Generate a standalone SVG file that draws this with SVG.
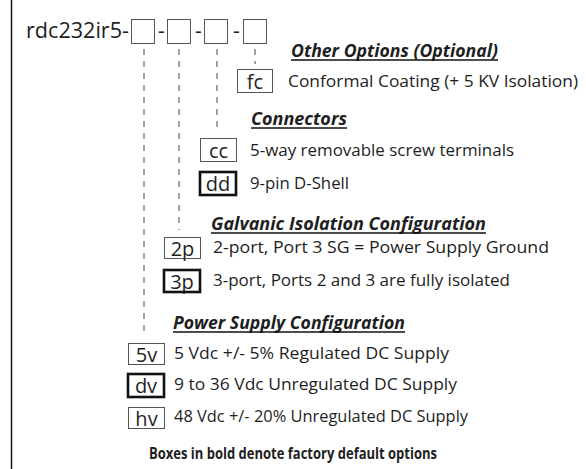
<svg xmlns="http://www.w3.org/2000/svg" width="586" height="469" viewBox="0 0 586 469">
<style>
text{font-family:"Open Sans",Lato,"Liberation Sans",sans-serif;fill:#1e1e1e}
.t{font-size:17px}
.h{font-size:17px;font-weight:bold;font-style:italic}
.lab{font-size:20px;text-anchor:middle}
.b{fill:#fff;stroke:#555;stroke-width:1}
.bb{fill:#fff;stroke:#111;stroke-width:2.6}
.ul{stroke:#111;stroke-width:1.6}
.d{stroke:#444;stroke-width:1;stroke-dasharray:6,6;fill:none}
</style>
<rect width="586" height="469" fill="#fff"/>
<line x1="11.5" y1="0" x2="11.5" y2="469" stroke="#111" stroke-width="1.5"/>
<g id="part">
<text x="26" y="38" font-size="21" textLength="103" lengthAdjust="spacingAndGlyphs">rdc232ir5-</text>
<rect class="b" x="131.5" y="19.5" width="23" height="24"/>
<text x="158" y="38" font-size="21">-</text>
<rect class="b" x="167.5" y="19.5" width="23" height="24"/>
<text x="195" y="38" font-size="21">-</text>
<rect class="b" x="204.5" y="19.5" width="23" height="24"/>
<text x="233" y="38" font-size="21">-</text>
<rect class="b" x="243.5" y="19.5" width="23" height="24"/>
</g>
<g id="connectors">
<line class="d" x1="144" y1="49" x2="144" y2="333"/>
<line class="d" x1="179" y1="49" x2="179" y2="230"/>
<line class="d" x1="217" y1="49" x2="217" y2="130"/>
<line class="d" x1="255" y1="49" x2="255" y2="64"/>
</g>
<g id="other">
<text class="h" x="291" y="57" textLength="207" lengthAdjust="spacingAndGlyphs">Other Options (Optional)</text>
<line class="ul" x1="291" y1="60" x2="498" y2="60"/>
<rect class="b" x="237.5" y="69.5" width="35" height="23"/>
<text class="lab" x="255" y="88.5">fc</text>
<text class="t" x="288" y="87" textLength="290" lengthAdjust="spacingAndGlyphs">Conformal Coating (+ 5 KV Isolation)</text>
</g>
<g id="conn">
<text class="h" x="251" y="125" textLength="96" lengthAdjust="spacingAndGlyphs">Connectors</text>
<line class="ul" x1="251" y1="128" x2="347" y2="128"/>
<rect class="b" x="200.5" y="138.5" width="36" height="23"/>
<text class="lab" x="218.5" y="157.5">cc</text>
<text class="t" x="250" y="156" textLength="264" lengthAdjust="spacingAndGlyphs">5-way removable screw terminals</text>
<rect class="bb" x="200" y="172" width="36" height="23"/>
<text class="lab" x="218" y="191">dd</text>
<text class="t" x="250" y="189" textLength="99" lengthAdjust="spacingAndGlyphs">9-pin D-Shell</text>
</g>
<g id="galv">
<text class="h" x="211" y="230" textLength="275" lengthAdjust="spacingAndGlyphs">Galvanic Isolation Configuration</text>
<line class="ul" x1="211" y1="233" x2="486" y2="233"/>
<rect class="b" x="164.5" y="237.5" width="36" height="21"/>
<text class="lab" x="182.5" y="255.5">2p</text>
<text class="t" x="213" y="253" textLength="336" lengthAdjust="spacingAndGlyphs">2-port, Port 3 SG = Power Supply Ground</text>
<rect class="bb" x="164" y="270" width="36" height="22"/>
<text class="lab" x="182" y="288.5">3p</text>
<text class="t" x="213" y="286" textLength="297" lengthAdjust="spacingAndGlyphs">3-port, Ports 2 and 3 are fully isolated</text>
</g>
<g id="power">
<text class="h" x="173" y="329" textLength="232" lengthAdjust="spacingAndGlyphs">Power Supply Configuration</text>
<line class="ul" x1="173" y1="332" x2="405" y2="332"/>
<rect class="b" x="128.5" y="343.5" width="36" height="21"/>
<text class="lab" x="146.5" y="361.5">5v</text>
<text class="t" x="174" y="359" textLength="275" lengthAdjust="spacingAndGlyphs">5 Vdc +/- 5% Regulated DC Supply</text>
<rect class="bb" x="128" y="374" width="36" height="23"/>
<text class="lab" x="146" y="392.5">dv</text>
<text class="t" x="174" y="390" textLength="283" lengthAdjust="spacingAndGlyphs">9 to 36 Vdc Unregulated DC Supply</text>
<rect class="b" x="128.5" y="407.5" width="36" height="21"/>
<text class="lab" x="146.5" y="425.5">hv</text>
<text class="t" x="174" y="422" textLength="294" lengthAdjust="spacingAndGlyphs">48 Vdc +/- 20% Unregulated DC Supply</text>
</g>
<text x="149" y="459" font-size="16.5" font-weight="bold" textLength="288" lengthAdjust="spacingAndGlyphs">Boxes in bold denote factory default options</text>
</svg>
